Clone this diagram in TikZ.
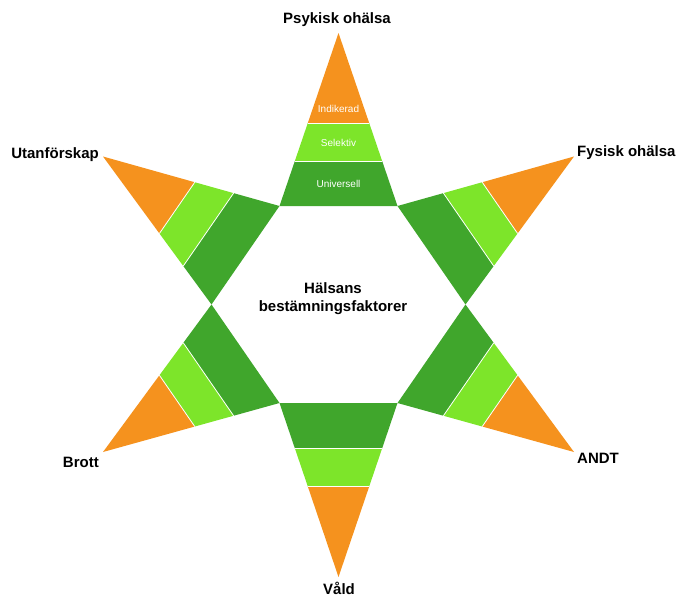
\documentclass[tikz,border=0pt]{standalone}
\usepackage{fontspec}
\setmainfont{Liberation Sans}
\usetikzlibrary{calc}
\definecolor{orng}{RGB}{245,146,30}
\definecolor{lgreen}{RGB}{125,229,42}
\definecolor{dgreen}{RGB}{64,166,44}
\newcommand\starArm[3]{%
  \fill[dgreen] (#1) -- (#2) -- ($(#2)!0.26!(#3)$) -- ($(#1)!0.26!(#3)$) -- cycle;
  \fill[lgreen] ($(#1)!0.26!(#3)$) -- ($(#2)!0.26!(#3)$) -- ($(#2)!0.48!(#3)$) -- ($(#1)!0.48!(#3)$) -- cycle;
  \fill[orng] ($(#1)!0.48!(#3)$) -- ($(#2)!0.48!(#3)$) -- (#3) -- cycle;
  \draw[sepline] ($(#1)!0.26!(#3)$) -- ($(#2)!0.26!(#3)$);
  \draw[sepline] ($(#1)!0.48!(#3)$) -- ($(#2)!0.48!(#3)$);
}
\begin{document}
\begin{tikzpicture}[x=1pt,y=-1pt,
  sepline/.style={draw=white,line width=0.8pt},
  lbl/.style={font=\fontsize{15}{18}\selectfont\bfseries,inner sep=0pt},
  tier/.style={font=\fontsize{10}{12}\selectfont,text=white,inner sep=0pt}]
\useasboundingbox (0,0) rectangle (679,597);
\coordinate (A) at (279.5,206);
\coordinate (B) at (397.5,206);
\coordinate (C) at (465.5,304.5);
\coordinate (D) at (397.5,403);
\coordinate (E) at (279.5,403);
\coordinate (F) at (211.5,304.5);
\coordinate (T1) at (338.5,33);
\coordinate (T2) at (574,156.5);
\coordinate (T3) at (574,452);
\coordinate (T4) at (338.5,577);
\coordinate (T5) at (103,452);
\coordinate (T6) at (103,156.5);
\starArm{A}{B}{T1}
\starArm{B}{C}{T2}
\starArm{C}{D}{T3}
\starArm{D}{E}{T4}
\starArm{E}{F}{T5}
\starArm{F}{A}{T6}
\node[tier] (ind) at (338.5,109) {Indikerad};
\node[tier] (sel) at (338.5,143) {Selektiv};
\node[tier] (uni) at (338.5,184) {Universell};
\node[lbl,align=center] (hb) at (333,299) {Hälsans\\bestämningsfaktorer};
\node[lbl] (psy) at (337,20) {Psykisk ohälsa};
\node[lbl,anchor=west] (fys) at (577,153) {Fysisk ohälsa};
\node[lbl,anchor=east] (uta) at (99,155) {Utanförskap};
\node[lbl,anchor=east] (bro) at (99,462) {Brott};
\node[lbl,anchor=west] (andt) at (577,458) {ANDT};
\node[lbl] (vald) at (339,588.5) {Våld};
\end{tikzpicture}
\end{document}
